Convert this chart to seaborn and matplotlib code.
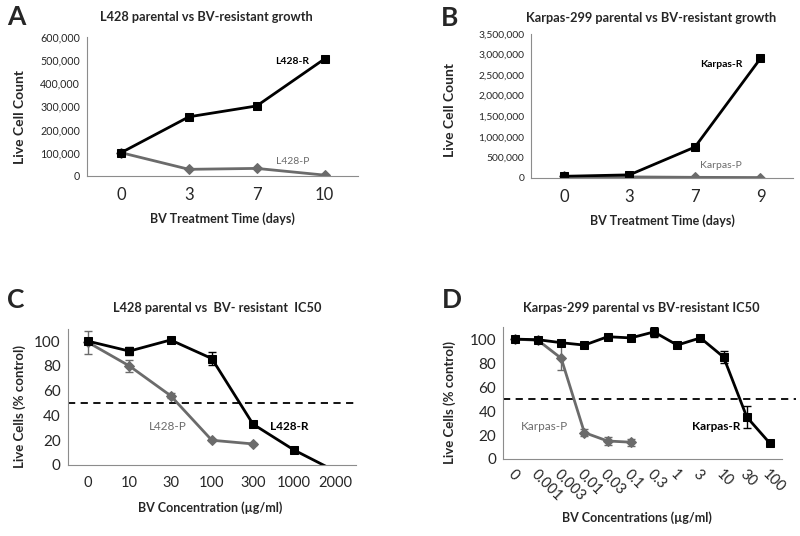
import numpy as np
import pandas as pd
import matplotlib
matplotlib.use("Agg")
import matplotlib.pyplot as plt
import seaborn as sns

# panel A
days_a = ["0", "3", "7", "10"]
l428_r = [100000, 255000, 302000, 505000]
l428_p = [100000, 28000, 32000, 3000]

# panel B
days_b = ["0", "3", "7", "9"]
karpas_r = [40000, 75000, 750000, 2900000]
karpas_p = [40000, 25000, 15000, 10000]

# panel C
conc_c = ["0", "10", "30", "100", "300", "1000", "2000"]
ic50_l428_r = [100, 92, 101, 86, 33, 12, -5]
ic50_l428_r_err = [2, 3, 1, 5, 1, 1, 0]
conc_c_p = ["0", "10", "30", "100", "300"]
ic50_l428_p = [99, 80, 56, 20, 17]
ic50_l428_p_err = [9, 5, 2, 1, 1]

# panel D
conc_d = ["0", "0.001", "0.003", "0.01", "0.03", "0.1", "0.3", "1", "3", "10", "30", "100"]
ic50_karpas_r = [100, 99.5, 97, 95, 102, 101, 106, 95, 101, 85, 35, 13]
ic50_karpas_r_err = [1, 1, 1, 1, 1, 1, 4, 1, 1, 5, 9, 1]
conc_d_p = ["0", "0.001", "0.003", "0.01", "0.03", "0.1"]
ic50_karpas_p = [100, 99, 84, 22, 15, 14]
ic50_karpas_p_err = [1, 1, 10, 3, 3, 3]

sns.set_style("white")
plt.rcParams["font.family"] = ["Lato", "DejaVu Sans"]

BLACK = "#000000"
GREY = "#6b6b6b"
SPINE = "#8c8c8c"

fig = plt.figure(figsize=(8, 5.36), dpi=100)

ax_a = fig.add_axes([0.109, 0.672, 0.339, 0.259])
ax_b = fig.add_axes([0.664, 0.668, 0.3275, 0.269])
ax_c = fig.add_axes([0.0845, 0.1325, 0.3605, 0.254])
ax_d = fig.add_axes([0.629, 0.1437, 0.348, 0.246])


def draw_series(ax, labels, values, color, marker, msize, err=None):
    df = pd.DataFrame({"pos": np.arange(len(values)), "val": values})
    sns.lineplot(data=df, x="pos", y="val", ax=ax, color=color, marker=marker,
                 markersize=msize, markeredgecolor=color, linewidth=2.0)
    if err is not None:
        ax.errorbar(df["pos"], df["val"], yerr=err, fmt="none", ecolor=color,
                    elinewidth=1.0, capsize=3, capthick=1.0)


def style_axis(ax, labels, xfs, yfs):
    n = len(labels)
    ax.set_xlim(-0.5, n - 0.5)
    ax.set_xticks(np.arange(n))
    ax.set_xticklabels(labels)
    ax.set_xticks(np.arange(-0.5, n, 1), minor=True)
    ax.tick_params(axis="x", which="major", length=0, labelsize=xfs, pad=8)
    ax.tick_params(axis="x", which="minor", length=4, direction="out", color=SPINE, width=0.8)
    ax.tick_params(axis="y", length=3, direction="out", color=SPINE, width=0.8, labelsize=yfs, pad=2)
    for s in ["top", "right"]:
        ax.spines[s].set_visible(False)
    for s in ["left", "bottom"]:
        ax.spines[s].set_color(SPINE)
        ax.spines[s].set_linewidth(0.8)
    ax.set_xlabel("")
    ax.set_ylabel("")
    ax.set_facecolor("none")


# A
draw_series(ax_a, days_a, l428_p, GREY, "D", 5)
draw_series(ax_a, days_a, l428_r, BLACK, "s", 6)
ax_a.set_ylim(0, 600000)
ax_a.set_yticks(np.arange(0, 600001, 100000))
ax_a.set_yticklabels([f"{v:,}" for v in range(0, 600001, 100000)])
style_axis(ax_a, days_a, 12, 7.7)
ax_a.text(2.78, 495000, "L428-R", ha="right", va="center", fontsize=7.5, fontweight="bold", color=BLACK)
ax_a.text(2.78, 60000, "L428-P", ha="right", va="center", fontsize=7.5, color=GREY)

# B
draw_series(ax_b, days_b, karpas_p, GREY, "D", 5)
draw_series(ax_b, days_b, karpas_r, BLACK, "s", 6)
ax_b.set_ylim(0, 3500000)
ax_b.set_yticks(np.arange(0, 3500001, 500000))
ax_b.set_yticklabels([f"{v:,}" for v in range(0, 3500001, 500000)])
style_axis(ax_b, days_b, 12, 7.4)
ax_b.text(2.72, 2750000, "Karpas-R", ha="right", va="center", fontsize=7.5, fontweight="bold", color=BLACK)
ax_b.text(2.72, 300000, "Karpas-P", ha="right", va="center", fontsize=7.5, color=GREY)

# C
draw_series(ax_c, conc_c_p, ic50_l428_p, GREY, "D", 5, ic50_l428_p_err)
draw_series(ax_c, conc_c, ic50_l428_r, BLACK, "s", 6, ic50_l428_r_err)
ax_c.axhline(50, color=BLACK, linestyle=(0, (4, 3)), linewidth=1.3, zorder=1)
ax_c.set_ylim(0, 110)
ax_c.set_yticks(np.arange(0, 101, 20))
style_axis(ax_c, conc_c, 10.5, 11)
ax_c.text(2.38, 31, "L428-P", ha="right", va="center", fontsize=8.5, color=GREY)
ax_c.text(4.42, 31, "L428-R", ha="left", va="center", fontsize=8.5, fontweight="bold", color=BLACK)

# D
draw_series(ax_d, conc_d_p, ic50_karpas_p, GREY, "D", 5, ic50_karpas_p_err)
draw_series(ax_d, conc_d, ic50_karpas_r, BLACK, "s", 6, ic50_karpas_r_err)
ax_d.axhline(50, xmin=0, xmax=1.05, color=BLACK, linestyle=(0, (4, 3)), linewidth=1.3, zorder=1, clip_on=False)
ax_d.set_ylim(0, 110)
ax_d.set_yticks(np.arange(0, 101, 20))
style_axis(ax_d, conc_d, 10.5, 11)
for lab in ax_d.get_xticklabels():
    lab.set_rotation(-45)
    lab.set_ha("left")
    lab.set_va("top")
    lab.set_rotation_mode("anchor")
ax_d.tick_params(axis="x", which="major", pad=6)
ax_d.text(2.28, 27, "Karpas-P", ha="right", va="center", fontsize=8.5, color=GREY)
ax_d.text(9.74, 27, "Karpas-R", ha="right", va="center", fontsize=8.5, fontweight="bold", color=BLACK)

# titles, panel letters, axis labels
fig.text(206 / 800, 1 - 17 / 536, "L428 parental vs BV-resistant growth", ha="center", va="center",
         fontsize=9.2, fontweight="bold")
fig.text(651 / 800, 1 - 18 / 536, "Karpas-299 parental vs BV-resistant growth", ha="center", va="center",
         fontsize=9.2, fontweight="bold")
fig.text(217 / 800, 1 - 308 / 536, "L428 parental vs  BV- resistant  IC50", ha="center", va="center",
         fontsize=9.2, fontweight="bold")
fig.text(641 / 800, 1 - 308 / 536, "Karpas-299 parental vs BV-resistant IC50", ha="center", va="center",
         fontsize=9.2, fontweight="bold")

for lx, ly, letter in [(16, 17, "A"), (450, 18, "B"), (16, 300, "C"), (452, 300, "D")]:
    fig.text(lx / 800, 1 - ly / 536, letter, ha="center", va="center", fontsize=19, fontweight="bold")

fig.text(222 / 800, 1 - 219 / 536, "BV Treatment Time (days)", ha="center", va="center", fontsize=9, fontweight="bold")
fig.text(662 / 800, 1 - 221 / 536, "BV Treatment Time (days)", ha="center", va="center", fontsize=9, fontweight="bold")
fig.text(210 / 800, 1 - 508 / 536, "BV Concentration (µg/ml)", ha="center", va="center", fontsize=9, fontweight="bold")
fig.text(637 / 800, 1 - 518 / 536, "BV Concentrations (µg/ml)", ha="center", va="center", fontsize=9, fontweight="bold")

fig.text(20 / 800, 1 - 117 / 536, "Live Cell Count", rotation=90, ha="center", va="center", fontsize=10, fontweight="bold")
fig.text(450 / 800, 1 - 110 / 536, "Live Cell Count", rotation=90, ha="center", va="center", fontsize=10, fontweight="bold")
fig.text(20 / 800, 1 - 407 / 536, "Live Cells (% control)", rotation=90, ha="center", va="center", fontsize=9.5, fontweight="bold")
fig.text(450 / 800, 1 - 403 / 536, "Live Cells (% control)", rotation=90, ha="center", va="center", fontsize=9.5, fontweight="bold")

fig.savefig("out.png", dpi=100, facecolor="white")
